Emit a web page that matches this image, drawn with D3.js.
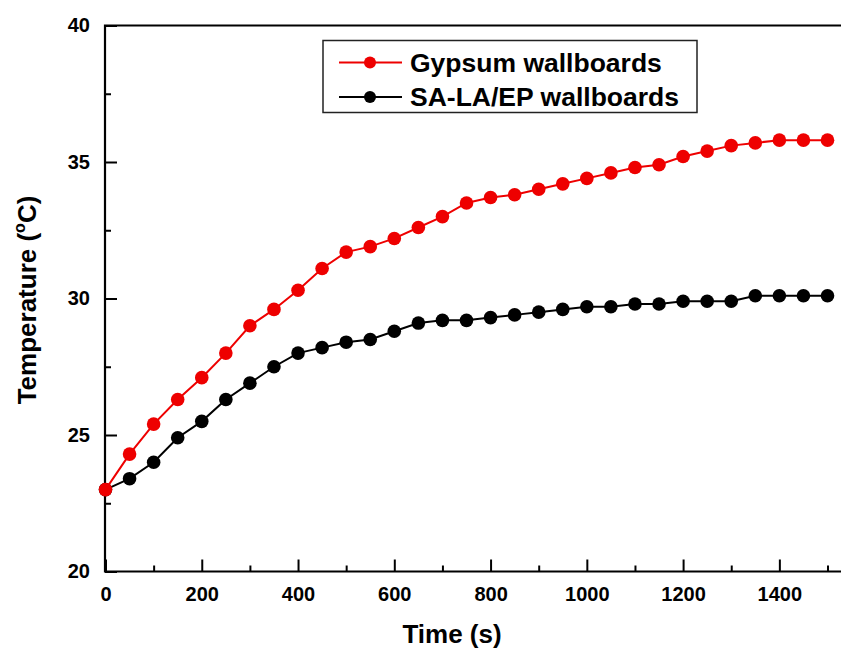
<!DOCTYPE html>
<html>
<head>
<meta charset="utf-8">
<script src="https://cdn.jsdelivr.net/npm/d3@7"></script>
<style>
  body { margin: 0; background: #fff; }
  text { font-family: "Liberation Sans", Arial, sans-serif; font-weight: bold; }
</style>
</head>
<body>
<svg id="chart"></svg>
<script>
// time (s), every 50 s
const times = d3.range(0, 1501, 50);
const gypsum = [23.0, 24.3, 25.4, 26.3, 27.1, 28.0, 29.0, 29.6, 30.3, 31.1, 31.7,
  31.9, 32.2, 32.6, 33.0, 33.5, 33.7, 33.8, 34.0, 34.2, 34.4,
  34.6, 34.8, 34.9, 35.2, 35.4, 35.6, 35.7, 35.8, 35.8, 35.8];
const salaep = [23.0, 23.4, 24.0, 24.9, 25.5, 26.3, 26.9, 27.5, 28.0, 28.2, 28.4,
  28.5, 28.8, 29.1, 29.2, 29.2, 29.3, 29.4, 29.5, 29.6, 29.7,
  29.7, 29.8, 29.8, 29.9, 29.9, 29.9, 30.1, 30.1, 30.1, 30.1];
const seriesNames = ['Gypsum wallboards', 'SA-LA/EP wallboards'];
const seriesColors = ['#ee0000', '#000000'];
const xMajor = [0, 200, 400, 600, 800, 1000, 1200, 1400];
const xMinor = [100, 300, 500, 700, 900, 1100, 1300, 1500];
const yMajor = [20, 25, 30, 35, 40];
const yMinor = [22.5, 27.5, 32.5, 37.5];

const width = 841, height = 655;
const svg = d3.select('#chart').attr('width', width).attr('height', height);

const x = d3.scaleLinear().domain([0, 1500]).range([105.5, 827.5]);
const y = d3.scaleLinear().domain([20, 40]).range([571.5, 25.5]);
const left = 105, right = 841;

// minor ticks
svg.append('g')
  .attr('transform', `translate(0,${y(20)})`)
  .call(d3.axisBottom(x).tickValues(xMinor).tickSize(-6).tickFormat(''))
  .call(g => g.select('.domain').remove());
svg.append('g')
  .attr('transform', `translate(${left},0)`)
  .call(d3.axisLeft(y).tickValues(yMinor).tickSize(-6).tickFormat(''))
  .call(g => g.select('.domain').remove());

// major ticks + labels
const xAxis = svg.append('g')
  .attr('transform', `translate(0,${y(20)})`)
  .call(d3.axisBottom(x).tickValues(xMajor).tickSize(-12).tickPadding(15).tickFormat(d3.format('d')));
xAxis.select('.domain').remove();
xAxis.selectAll('text').attr('font-size', 20).attr('fill', '#000');

const yAxis = svg.append('g')
  .attr('transform', `translate(${left},0)`)
  .call(d3.axisLeft(y).tickValues(yMajor).tickSize(-12).tickPadding(15));
yAxis.select('.domain').remove();
yAxis.selectAll('text').attr('font-size', 20).attr('fill', '#000');

svg.selectAll('.tick line').attr('stroke', '#000').attr('stroke-width', 2);

// frame: left, bottom, top
svg.append('path')
  .attr('d', `M${right},${y(40)}H${left}V${y(20)}H${right}`)
  .attr('fill', 'none').attr('stroke', '#000').attr('stroke-width', 2.2);

// series
const line = d3.line().x((d, i) => x(times[i])).y(d => y(d));
[salaep, gypsum].forEach((vals, k) => {
  const c = k === 0 ? seriesColors[1] : seriesColors[0];
  svg.append('path').datum(vals)
    .attr('d', line).attr('fill', 'none').attr('stroke', c).attr('stroke-width', 2);
  svg.append('g').selectAll('circle').data(vals).join('circle')
    .attr('cx', (d, i) => x(times[i])).attr('cy', d => y(d)).attr('r', 6.8).attr('fill', c);
});

// legend
const lg = svg.append('g');
lg.append('rect').attr('x', 323).attr('y', 40.5).attr('width', 374).attr('height', 72)
  .attr('fill', '#fff').attr('stroke', '#222').attr('stroke-width', 1.5);
seriesNames.forEach((name, i) => {
  const cy = 62.5 + i * 34.5;
  lg.append('line').attr('x1', 339).attr('x2', 402).attr('y1', cy).attr('y2', cy)
    .attr('stroke', seriesColors[i]).attr('stroke-width', 2);
  lg.append('circle').attr('cx', 370).attr('cy', cy).attr('r', 6).attr('fill', seriesColors[i]);
  lg.append('text').attr('x', 410).attr('y', cy).attr('dy', '0.35em')
    .attr('font-size', 26.5).attr('fill', '#000').text(name);
});

// axis titles
svg.append('text').attr('x', 452).attr('y', 643).attr('text-anchor', 'middle')
  .attr('font-size', 26).attr('fill', '#000').text('Time (s)');

const yt = svg.append('text').attr('transform', 'translate(36,300) rotate(-90)')
  .attr('text-anchor', 'middle').attr('font-size', 26).attr('fill', '#000');
yt.append('tspan').text('Temperature (');
yt.append('tspan').attr('font-size', 16).attr('dy', -11).text('o');
yt.append('tspan').attr('dy', 11).text('C)');
</script>
</body>
</html>
